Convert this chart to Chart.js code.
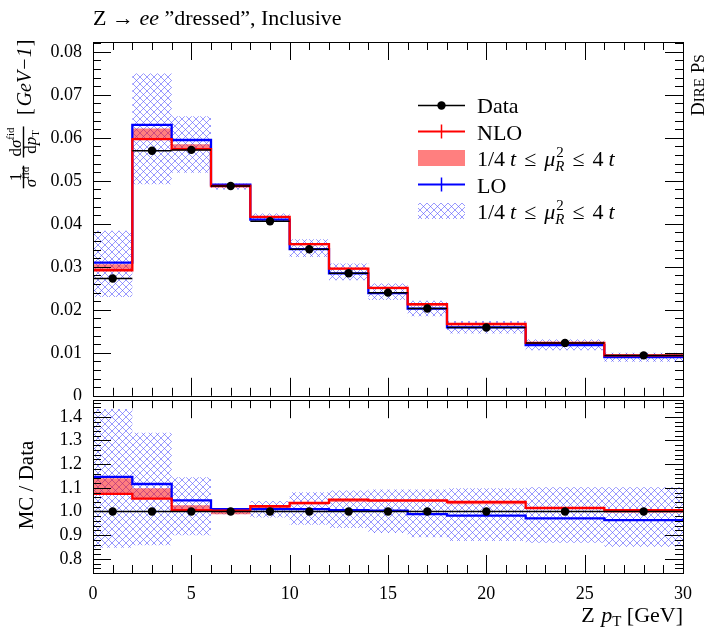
<!DOCTYPE html>
<html>
<head>
<meta charset="utf-8">
<script src="https://cdn.jsdelivr.net/npm/chart.js@4.4.1/dist/chart.umd.min.js"></script>
<style>
  body { margin: 0; background: #fff; }
  #wrap { position: relative; width: 706px; height: 632px; }
  canvas { position: absolute; left: 0; }
  #mainChart { top: 0; }
  #ratioChart { top: 396px; }
</style>
</head>
<body>
<div id="wrap">
  <canvas id="mainChart" width="706" height="400"></canvas>
  <canvas id="ratioChart" width="706" height="236"></canvas>
</div>
<script>
// bin edges of the Z pT histogram [GeV]
const binEdges = [0, 2, 4, 6, 8, 10, 12, 14, 16, 18, 22, 26, 30];

// x tick labels
const xTickLabels = [0, 5, 10, 15, 20, 25, 30];

// normalised cross section per bin
const dataValues  = [0.0273, 0.0570, 0.0572, 0.0488, 0.0406, 0.0341, 0.0285, 0.0240, 0.0203, 0.0159, 0.0123, 0.0094];
const nloValues   = [0.0292, 0.0597, 0.0574, 0.0488, 0.0416, 0.0353, 0.0296, 0.0251, 0.0213, 0.0167, 0.0123, 0.0094];
const nloBandLow  = [0.0292, 0.0597, 0.0574, 0.0485, 0.0413, 0.0350, 0.0293, 0.0248, 0.0210, 0.0164, 0.0122, 0.0093];
const nloBandHigh = [0.0306, 0.0622, 0.0585, 0.0490, 0.0418, 0.0355, 0.0298, 0.0253, 0.0215, 0.0168, 0.0124, 0.0095];
const loValues    = [0.0310, 0.0630, 0.0595, 0.0491, 0.0410, 0.0341, 0.0285, 0.0239, 0.0203, 0.0159, 0.0118, 0.0090];
const loBandLow   = [0.0230, 0.0492, 0.0519, 0.0480, 0.0405, 0.0323, 0.0269, 0.0223, 0.0185, 0.0145, 0.0106, 0.0079];
const loBandHigh  = [0.0384, 0.0750, 0.0650, 0.0494, 0.0424, 0.0364, 0.0308, 0.0261, 0.0221, 0.0174, 0.0131, 0.0100];

// MC / Data ratios
const ratioData    = [1, 1, 1, 1, 1, 1, 1, 1, 1, 1, 1, 1];
const ratioNlo     = [1.074, 1.054, 1.006, 1.003, 1.022, 1.036, 1.050, 1.047, 1.047, 1.040, 1.015, 1.006];
const ratioNloLow  = [1.074, 1.054, 1.006, 0.988, 1.012, 1.028, 1.040, 1.040, 1.040, 1.030, 1.008, 0.995];
const ratioNloHigh = [1.140, 1.098, 1.026, 1.005, 1.022, 1.036, 1.050, 1.047, 1.047, 1.040, 1.015, 1.006];
const ratioLo      = [1.146, 1.116, 1.047, 1.010, 1.010, 1.010, 1.006, 1.003, 0.989, 0.982, 0.971, 0.963];
const ratioLoLow   = [0.847, 0.857, 0.900, 0.988, 0.974, 0.944, 0.930, 0.909, 0.891, 0.875, 0.868, 0.851];
const ratioLoHigh  = [1.433, 1.333, 1.144, 1.012, 1.044, 1.081, 1.088, 1.093, 1.093, 1.098, 1.102, 1.102];

const serif = "'Liberation Serif', 'Times New Roman', serif";
const red = '#ff0000';
const blue = '#0000ff';
const redBand = 'rgba(255, 0, 0, 0.5)';

Chart.defaults.font.family = serif;
Chart.defaults.color = '#000';

// cross hatch used for the LO scale band
function makeHatch (ctx) {
    const c = document.createElement('canvas');
    c.width = 7; c.height = 7;
    const g = c.getContext('2d');
    g.strokeStyle = 'rgba(80, 80, 255, 0.65)';
    g.lineWidth = 0.9;
    g.beginPath();
    g.moveTo(-1, -1); g.lineTo(8, 8);
    g.moveTo(-1, 8); g.lineTo(8, -1);
    g.stroke();
    return ctx.createPattern(c, 'repeat'); }

const hatch = makeHatch(document.getElementById('mainChart').getContext('2d'));

/* ------------------------------------------- build datasets ---------------------------------------------------- */

// {x: left edge, y: value} per bin plus the right edge of the last bin; drawn as steps
function stepPoints (values) {
    const pts = values.map((v, i) => ({ x: binEdges[i], y: v }));
    pts.push({ x: binEdges[binEdges.length - 1], y: values[values.length - 1] });
    return pts; }

// horizontal error bar of each bin, separated by gaps
function barPoints (values) {
    const pts = [];
    values.forEach((v, i) => {
        pts.push({ x: binEdges[i], y: v }, { x: binEdges[i + 1], y: v }, { x: binEdges[i + 1], y: null }); });
    return pts; }

// bin centres
function centerPoints (values) {
    return values.map((v, i) => ({ x: (binEdges[i] + binEdges[i + 1]) / 2, y: v })); }

function histLine (values, color, order) {
    return { data: stepPoints(values), stepped: 'before', borderColor: color, borderWidth: 2.3,
        pointRadius: 0, fill: false, order: order }; }

// low edge (invisible) followed by high edge filled down to it
function band (low, high, fillStyle, order) {
    return [
        { data: stepPoints(low), stepped: 'before', borderColor: 'transparent', borderWidth: 0,
            pointRadius: 0, fill: false, order: order },
        { data: stepPoints(high), stepped: 'before', borderColor: 'transparent', borderWidth: 0,
            pointRadius: 0, fill: '-1', backgroundColor: fillStyle, order: order } ]; }

function dataSets (values) {
    return [
        { data: centerPoints(values), showLine: false, pointRadius: 4.2, pointBackgroundColor: '#000',
            pointBorderWidth: 0, order: 0 },
        { data: barPoints(values), borderColor: '#000', borderWidth: 1.5, pointRadius: 0, fill: false, order: 1 } ]; }

/* ------------------------------------------- drawing helpers --------------------------------------------------- */

function drawRun (ctx, text, font, x, y) {
    ctx.font = font + ' ' + serif;
    ctx.fillText(text, x, y);
    return x + ctx.measureText(text).width; }

function runWidth (ctx, runs) {
    let w = 0;
    runs.forEach((r) => { ctx.font = r.f + ' ' + serif; w += ctx.measureText(r.t).width + (r.gap || 0); });
    return w; }

function drawRuns (ctx, runs, x, y) {
    runs.forEach((r) => { x = drawRun(ctx, r.t, r.f, x, y + (r.dy || 0)) + (r.gap || 0); });
    return x; }

// small stacked fraction centred on cx, bar at barY
function drawFraction (ctx, cx, barY, num, den) {
    const wn = runWidth(ctx, num), wd = runWidth(ctx, den), w = Math.max(wn, wd) + 2;
    drawRuns(ctx, num, cx - wn / 2, barY - 3);
    drawRuns(ctx, den, cx - wd / 2, barY + 12);
    ctx.fillRect(cx - w / 2, barY - 0.7, w, 1.4); }

// 1/4 t <= mu_R^2 <= 4 t
function drawScaleText (ctx, x, y) {
    x = drawRun(ctx, '1/4', '22px', x, y) + 5;
    x = drawRun(ctx, 't', 'italic 22px', x, y) + 8;
    x = drawRun(ctx, '≤', '22px', x, y) + 8;
    x = drawRun(ctx, 'μ', 'italic 22px', x, y);
    const a = drawRun(ctx, '2', '15px', x + 1, y - 9);
    const b = drawRun(ctx, 'R', 'italic 15px', x, y + 5);
    x = Math.max(a, b) + 8;
    x = drawRun(ctx, '≤', '22px', x, y) + 8;
    x = drawRun(ctx, '4', '22px', x, y) + 5;
    drawRun(ctx, 't', 'italic 22px', x, y); }

// inward ticks on all four sides and the frame
function drawFrame (chart, yFirst, yLast, yStep) {
    const ctx = chart.ctx, a = chart.chartArea, xs = chart.scales.x, ys = chart.scales.y;
    ctx.save();
    ctx.strokeStyle = '#000';
    ctx.lineWidth = 1;
    ctx.beginPath();
    for (let i = 0; i <= 30; i++) {
        const px = Math.round(xs.getPixelForValue(i)) + 0.5, len = i % 5 === 0 ? 18 : 8;
        ctx.moveTo(px, a.bottom); ctx.lineTo(px, a.bottom - len);
        ctx.moveTo(px, a.top); ctx.lineTo(px, a.top + len); }
    for (let i = yFirst; i <= yLast; i++) {
        const py = Math.round(ys.getPixelForValue(i * yStep)) + 0.5, len = i % 5 === 0 ? 18 : 8;
        ctx.moveTo(a.left, py); ctx.lineTo(a.left + len, py);
        ctx.moveTo(a.right, py); ctx.lineTo(a.right - len, py); }
    ctx.stroke();
    ctx.strokeRect(Math.round(a.left) + 0.5, Math.round(a.top) + 0.5,
        Math.round(a.right - a.left), Math.round(a.bottom - a.top));
    ctx.restore(); }

/* ------------------------------------------- plugins ----------------------------------------------------------- */

const mainTextPlugin = {
    id: 'mainText',
    afterDraw (chart) {
        const ctx = chart.ctx;
        drawFrame(chart, 0, 41, 0.002);
        ctx.save();
        ctx.fillStyle = '#000';
        ctx.textBaseline = 'alphabetic';

        // title
        let x = drawRun(ctx, 'Z → ', '22px', 93, 25);
        x = drawRun(ctx, 'ee', 'italic 22px', x, 25);
        drawRun(ctx, ' \u201Ddressed\u201D, Inclusive', '22px', x, 25);

        // y title, read bottom to top
        ctx.save();
        ctx.translate(0, 193);
        ctx.rotate(-Math.PI / 2);
        drawFraction(ctx, 16, 23.5, [ {t: '1', f: '17px'} ],
            [ {t: 'σ', f: 'italic 17px'}, {t: 'fid', f: '11px', dy: -7} ]);
        drawFraction(ctx, 51, 23.5, [ {t: 'd', f: '17px'}, {t: 'σ', f: 'italic 17px'}, {t: 'fid', f: '11px', dy: -7} ],
            [ {t: 'd', f: '17px'}, {t: 'p', f: 'italic 17px'}, {t: 'T', f: '11px', dy: 3} ]);
        drawRuns(ctx, [ {t: '[', f: '20px', gap: 2}, {t: 'GeV−1', f: 'italic 20px', gap: 1}, {t: ']', f: '20px'} ], 78, 31);
        ctx.restore();

        // generator tag on the right
        ctx.save();
        ctx.translate(704, 116);
        ctx.rotate(-Math.PI / 2);
        drawRuns(ctx, [ {t: 'D', f: '19px'}, {t: 'IRE', f: '15px'}, {t: ' P', f: '19px'}, {t: 'S', f: '15px'} ], 0, 0);
        ctx.restore();

        // legend
        const lx = 418, lw = 47, tx = 477;
        ctx.lineWidth = 1.5; ctx.strokeStyle = '#000';
        ctx.beginPath(); ctx.moveTo(lx, 105.5); ctx.lineTo(lx + lw, 105.5); ctx.stroke();
        ctx.beginPath(); ctx.arc(lx + lw / 2, 105.5, 4.2, 0, Math.PI * 2); ctx.fill();
        [[131.5, red], [184.5, blue]].forEach(([y, c]) => {
            ctx.strokeStyle = c; ctx.lineWidth = 2;
            ctx.beginPath(); ctx.moveTo(lx, y); ctx.lineTo(lx + lw, y); ctx.stroke();
            ctx.lineWidth = 1.5;
            ctx.beginPath(); ctx.moveTo(lx + lw / 2, y - 7); ctx.lineTo(lx + lw / 2, y + 7); ctx.stroke(); });
        ctx.fillStyle = redBand; ctx.fillRect(lx, 150, lw, 16);
        ctx.fillStyle = hatch; ctx.fillRect(lx, 203, lw, 16);
        ctx.fillStyle = '#000';
        drawRun(ctx, 'Data', '22px', tx, 113);
        drawRun(ctx, 'NLO', '22px', tx, 139.5);
        drawScaleText(ctx, tx, 165.5);
        drawRun(ctx, 'LO', '22px', tx, 192.5);
        drawScaleText(ctx, tx, 218.5);
        ctx.restore(); }
};

const ratioTextPlugin = {
    id: 'ratioText',
    afterDraw (chart) {
        const ctx = chart.ctx;
        drawFrame(chart, 37, 73, 0.02);
        ctx.save();
        ctx.fillStyle = '#000';
        ctx.save();
        ctx.translate(33, 89);
        ctx.rotate(-Math.PI / 2);
        ctx.textAlign = 'center';
        drawRun(ctx, 'MC / Data', '21px', 0, 0);
        ctx.restore();
        const title = [ {t: 'Z ', f: '22px', gap: 1}, {t: 'p', f: 'italic 22px'}, {t: 'T', f: '15px', dy: 4}, {t: ' [GeV]', f: '22px'} ];
        drawRuns(ctx, title, 683 - runWidth(ctx, title), 226);
        ctx.restore(); }
};

/* ------------------------------------------- charts ------------------------------------------------------------ */

// fixed axis width, and no extra room for labels poking out at the ends
function axisY (min, max, step, label) {
    return { type: 'linear', min: min, max: max,
        afterFit: (s) => { s.width = 93; s.paddingTop = 0; s.paddingBottom = 0; },
        grid: { display: false, drawTicks: false }, border: { display: false },
        ticks: { stepSize: step, includeBounds: false, padding: 11, color: '#000',
            font: { family: serif, size: 18 }, callback: label } }; }

const mainChart = new Chart('mainChart', {
    type: 'line',
    data: { datasets: [
        ...dataSets(dataValues),
        histLine(nloValues, red, 2),
        histLine(loValues, blue, 3),
        ...band(nloBandLow, nloBandHigh, redBand, 4),
        ...band(loBandLow, loBandHigh, hatch, 5) ] },
    options: {
        animation: false, responsive: false, events: [],
        layout: { padding: { top: 42, right: 23, bottom: 4, left: 0 } },
        plugins: { legend: { display: false }, tooltip: { enabled: false } },
        scales: {
            x: { type: 'linear', min: 0, max: 30, display: false },
            y: axisY(0, 0.0823, 0.01, (v) => v === 0 ? '0' : v.toFixed(2)) } },
    plugins: [mainTextPlugin]
});

const ratioChart = new Chart('ratioChart', {
    type: 'line',
    data: { datasets: [
        ...dataSets(ratioData),
        histLine(ratioNlo, red, 2),
        histLine(ratioLo, blue, 3),
        ...band(ratioNloLow, ratioNloHigh, redBand, 4),
        ...band(ratioLoLow, ratioLoHigh, hatch, 5) ] },
    options: {
        animation: false, responsive: false, events: [],
        layout: { padding: { top: 0, right: 23, bottom: 0, left: 0 } },
        plugins: { legend: { display: false }, tooltip: { enabled: false } },
        scales: {
            x: { type: 'linear', min: 0, max: 30,
                afterFit: (s) => { s.height = 59; s.paddingLeft = 0; s.paddingRight = 0; },
                afterBuildTicks: (s) => { s.ticks = xTickLabels.map((v) => ({ value: v })); },
                grid: { display: false, drawTicks: false }, border: { display: false },
                ticks: { padding: 10, maxRotation: 0, autoSkip: false, color: '#000',
                    font: { family: serif, size: 18 } } },
            y: axisY(0.74, 1.47, 0.1, (v) => v.toFixed(1)) } },
    plugins: [ratioTextPlugin]
});
</script>
</body>
</html>
